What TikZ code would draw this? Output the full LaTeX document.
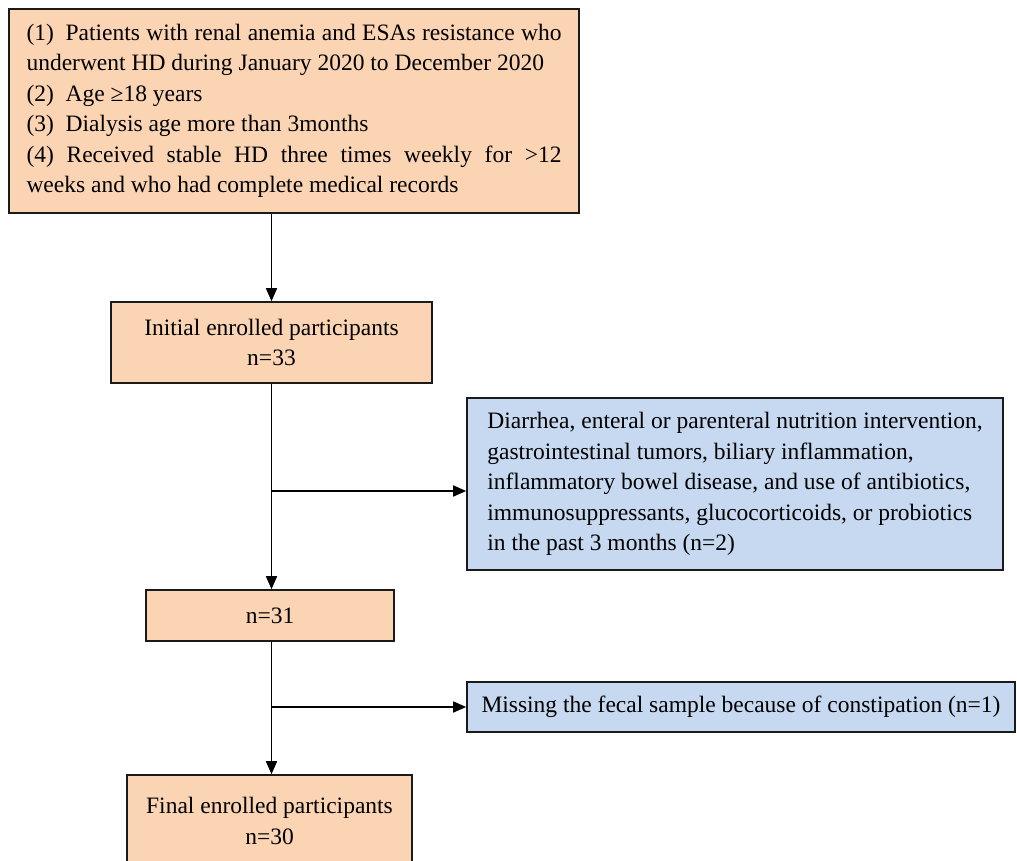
\documentclass[tikz,border=0pt]{standalone}
\usepackage{fontspec}
\setmainfont{Liberation Serif}
\usetikzlibrary{arrows.meta}
\definecolor{peach}{HTML}{FBD4B4}
\definecolor{lblue}{HTML}{C6D9F1}
\definecolor{edgecol}{HTML}{1A1A1A}
\begin{document}
\begin{tikzpicture}[x=1pt,y=-1pt,
  font=\fontsize{23.5}{30.5}\selectfont,
  box/.style={draw=edgecol, line width=1.6pt, inner sep=0pt, align=center},
  inc/.style={box, fill=peach},
  exc/.style={box, fill=lblue, align=left},
  arr/.style={draw=black, line width=1.6pt, -{Triangle[length=13pt,width=11pt]}}]
\useasboundingbox (0,0) rectangle (1017,860);

\node[inc, minimum width=570pt, minimum height=204pt, align=left] (crit) at (294,111)
  {\makebox[535pt][s]{(1)\enspace Patients with renal anemia and ESAs resistance who}\\
   underwent HD during January 2020 to December 2020\\
   (2)\enspace Age ≥18 years\\
   (3)\enspace Dialysis age more than 3months\\
   \makebox[535pt][s]{(4) Received stable HD three times weekly for >12}\\
   weeks and who had complete medical records};

\node[inc, minimum width=321pt, minimum height=81pt] (init) at (271.5,342.5)
  {Initial enrolled participants\\ n=33};

\node[exc, minimum width=536pt, minimum height=172pt] (excl1) at (735,484)
  {Diarrhea, enteral or parenteral nutrition intervention,\\
   gastrointestinal tumors, biliary inflammation,\\
   inflammatory bowel disease, and use of antibiotics,\\
   immunosuppressants, glucocorticoids, or probiotics\\
   in the past 3 months (n=2)};

\node[inc, minimum width=248pt, minimum height=51pt] (mid) at (270,615.5) {n=31};

\node[exc, minimum width=548pt, minimum height=50pt] (excl2) at (741,707)
  {Missing the fecal sample because of constipation (n=1)};

\node[inc, minimum width=285pt, minimum height=92pt] (final) at (269.5,821)
  {Final enrolled participants\\ n=30};

\draw[arr] (init.north |- crit.south) -- (init.north);
\draw[arr] (init.south) -- (init.south |- mid.north);
\coordinate (j1) at (271.5,491);
\draw[arr] (j1) -- (j1 -| excl1.west);
\draw[arr] (init.south |- mid.south) -- (init.south |- final.north);
\coordinate (j2) at (init.south |- excl2.west);
\draw[arr] (j2) -- (excl2.west);
\end{tikzpicture}
\end{document}
